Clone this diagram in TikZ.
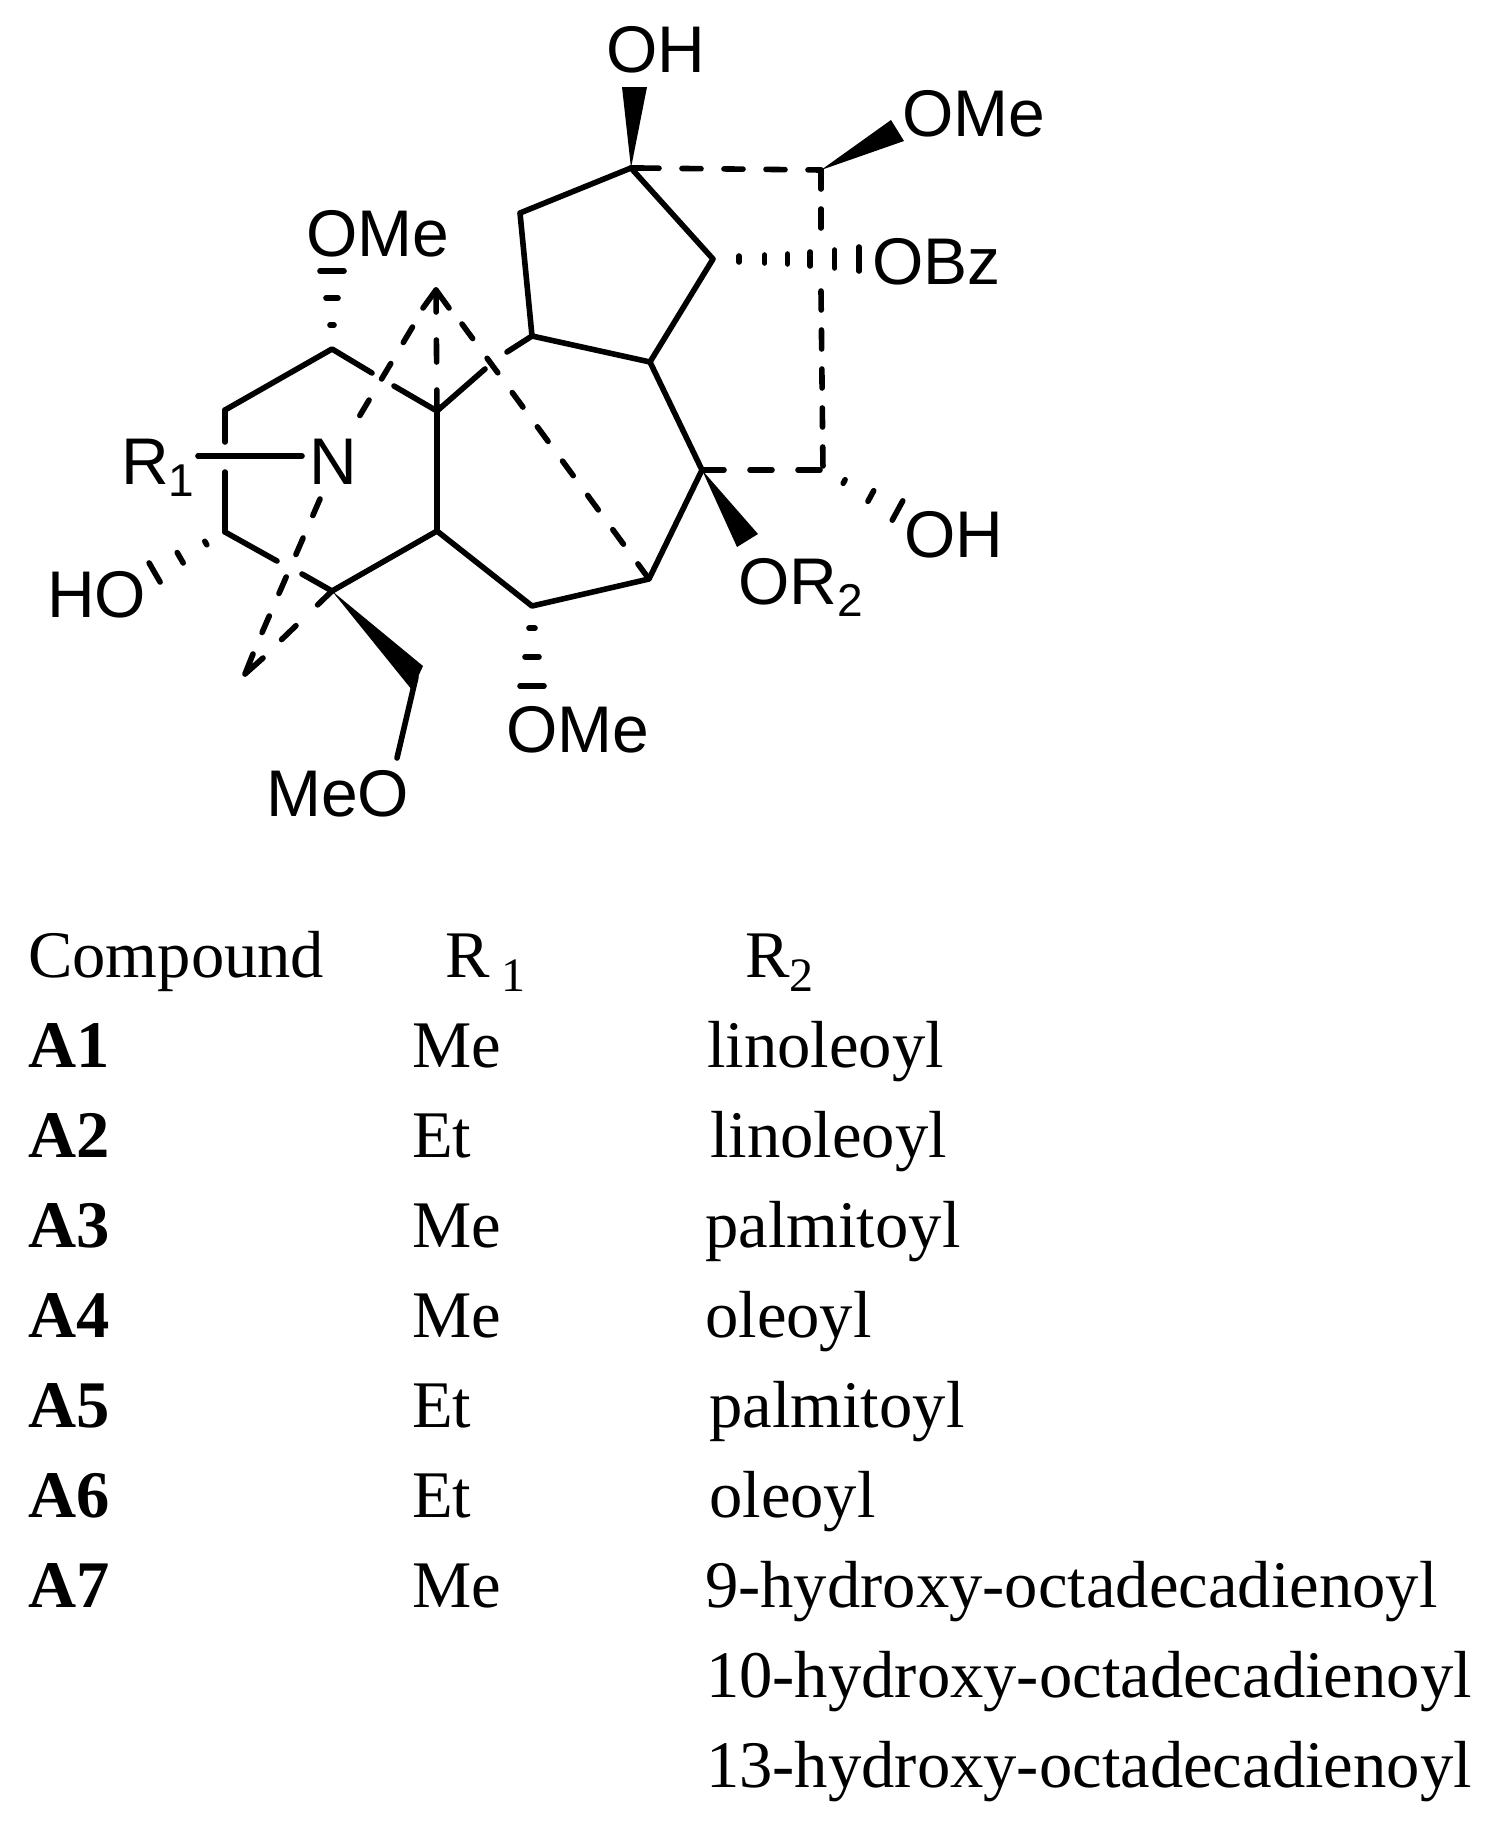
\documentclass[tikz,border=0pt]{standalone}
\usepackage{fontspec}
\setmainfont{Liberation Serif}
\newfontfamily\arialf{Liberation Sans}
\usetikzlibrary{calc}
\newcommand{\subA}[1]{\raisebox{-12pt}{\fontsize{46}{46}\selectfont #1}}
\newcommand{\subT}[1]{\raisebox{-14pt}{\fontsize{48}{48}\selectfont #1}}
\newcommand{\hashbond}[3]{% from, to, list of t/halfwidth
  \foreach \t/\w in {#3}{
    \draw[bond] ($(#1)!\t!(#2)!\w pt!90:(#2)$) -- ($(#1)!\t!(#2)!\w pt!-90:(#2)$);
  }}
\tikzset{
  bond/.style={line width=5.6pt,line join=round,line cap=round,black},
  dashA/.style={bond,dash pattern=on 19pt off 23pt},
  dashB/.style={bond,dash pattern=on 19pt off 20pt},
  dashC/.style={bond,dash pattern=on 22pt off 26pt},
  dashD/.style={bond,dash pattern=on 22pt off 28pt},
  dashE/.style={bond,dash pattern=on 18pt off 24.5pt},
  dashF/.style={bond,dash pattern=on 20pt off 30pt},
  lbl/.style={font=\arialf\fontsize{66}{66}\selectfont,inner sep=0pt,anchor=base west,text=black},
  tbl/.style={font=\fontsize{66.6}{67}\selectfont,inner sep=0pt,anchor=base west,text=black},
  tblb/.style={font=\bfseries\fontsize{66.6}{67}\selectfont,inner sep=0pt,anchor=base west,text=black},
  wedge/.style={fill=black,draw=none}
}
\begin{document}
\begin{tikzpicture}[x=1pt,y=-1pt]
\useasboundingbox[fill=white] (0,0) rectangle (1491,1826);
% atoms
\coordinate (a) at (631,168);
\coordinate (b) at (821,170);
\coordinate (c) at (713,259);
\coordinate (d) at (520,213);
\coordinate (e) at (532,336);
\coordinate (f) at (650,362);
\coordinate (g) at (702,470);
\coordinate (h) at (823,470);
\coordinate (i) at (649,579);
\coordinate (j) at (532,606);
\coordinate (k) at (437,531);
\coordinate (l) at (437,411);
\coordinate (m) at (332,349);
\coordinate (n) at (225,410);
\coordinate (o) at (225,532);
\coordinate (p) at (332,591);
\coordinate (q) at (416,677);
\coordinate (apex) at (436,290);
\coordinate (tip) at (245,674);
% labels
\node[lbl] (oh1) at (606,72) {OH};
\node[lbl] (ome1) at (902,136) {OMe};
\node[lbl] (obz) at (872,284) {OBz};
\node[lbl] (ome2) at (306,256) {OMe};
\node[lbl] (nn) at (309,484) {N};
\node[lbl] (r1) at (121,484) {R\subA{1}};
\node[lbl] (oh2) at (904,557) {OH};
\node[lbl] (or2) at (738,604) {OR\subA{2}};
\node[lbl] (ome3) at (506,752) {OMe};
\node[lbl] (meo) at (266,816) {MeO};
\node[lbl] (ho) at (47,617) {HO};
% solid bonds
\draw[bond] (d) -- (a) -- (c) -- (f) -- (e) -- (d);
\draw[bond] (f) -- (g) -- (i) -- (j) -- (k) -- (l);
\draw[bond] (k) -- (p);
\coordinate (lm1) at (394,386);
\coordinate (lm2) at (372,373);
\coordinate (le1) at (485,369);
\coordinate (le2) at (507,352);
\draw[bond] (e) -- (le2);
\draw[bond] (le1) -- (l) -- (lm1);
\draw[bond] (lm2) -- (m) -- (n);
\coordinate (no1) at (225,442);
\coordinate (no2) at (225,472);
\draw[bond] (n) -- (no1);
\draw[bond] (no2) -- (o);
\coordinate (op1) at (277,561);
\coordinate (op2) at (302,574);
\draw[bond] (o) -- (op1);
\draw[bond] (op2) -- (p);
\coordinate (r1e) at (198,456);
\coordinate (r1n) at (302,456);
\draw[bond] (r1e) -- (r1n);
\coordinate (qo) at (397,758);
\draw[bond] (q) -- (qo);
% dashed bonds
\coordinate (ab0) at (640,168);
\draw[bond] (a) -- (ab0);
\draw[dashA] (ab0) -- (b);
\coordinate (bh1) at (821,234);
\coordinate (bh2) at (821,291);
\draw[dashB] (b) -- (bh1);
\draw[dashB] (bh2) -- (h);
\draw[dashC] (g) -- (h);
\draw[dashD] (apex) -- (l);
\coordinate (ai0) at (462,324);
\draw[dashE] (ai0) -- (i);
\coordinate (nt0) at (412.5,327);
\coordinate (nt) at (356,422);
\draw[dashE] (nt0) -- (nt);
\coordinate (nb) at (320,499);
\coordinate (nb2) at (261,635);
\draw[dashE] (nb) -- (nb2);
\coordinate (pt) at (278,643);
\draw[dashF] (p) -- (pt);
% arrow barbs
\coordinate (ap1) at (423,308);
\coordinate (ap2) at (449,308);
\draw[bond] (ap1) -- (apex) -- (ap2);
\coordinate (tp1) at (253,654);
\coordinate (tp2) at (263,658);
\draw[bond] (tp1) -- (tip) -- (tp2);
% wedges
\coordinate (w1a) at (622,87);
\coordinate (w1b) at (647,87);
\fill[wedge] (a) -- (w1a) -- (w1b) -- cycle;
\coordinate (w2a) at (891,120);
\coordinate (w2b) at (904,141);
\fill[wedge] (b) -- (w2a) -- (w2b) -- cycle;
\coordinate (w3a) at (758,534);
\coordinate (w3b) at (737,547);
\fill[wedge] (g) -- (w3a) -- (w3b) -- cycle;
\coordinate (w4a) at (423,666);
\coordinate (w4b) at (412,690);
\fill[wedge] (p) -- (w4a) -- (w4b) -- cycle;
% hashed
\coordinate (hm) at (332,265);
\hashbond{m}{hm}{0.286/2,0.607/6,0.93/12}
\coordinate (hj) at (532,695);
\hashbond{j}{hj}{0.25/3,0.57/7,0.90/12}
\coordinate (ho1) at (145,578);
\hashbond{o}{ho1}{0.24/2,0.56/6,0.88/11}
\coordinate (ho2) at (915,520);
\hashbond{h}{ho2}{0.23/2,0.52/6,0.81/11}
\coordinate (hc) at (865,259);
\hashbond{c}{hc}{0.17/3,0.34/4,0.49/5,0.64/7,0.80/9,0.96/12}
% table
\node[tbl] (c0) at (28,977) {Compound};
\node[tbl] (c1) at (445,977) {R\kern12pt\subT{1}};
\node[tbl] (c2) at (745,977) {R\subT{2}};
\node[tblb] (a1) at (28,1067) {A1};
\node[tbl] (m1) at (412,1067) {Me};
\node[tbl] (r21) at (707,1067) {linoleoyl};
\node[tblb] (a2) at (28,1157) {A2};
\node[tbl] (m2) at (412,1157) {Et};
\node[tbl] (r22) at (710,1157) {linoleoyl};
\node[tblb] (a3) at (28,1247) {A3};
\node[tbl] (m3) at (412,1247) {Me};
\node[tbl] (r23) at (705,1247) {palmitoyl};
\node[tblb] (a4) at (28,1337) {A4};
\node[tbl] (m4) at (412,1337) {Me};
\node[tbl] (r24) at (705,1337) {oleoyl};
\node[tblb] (a5) at (28,1427) {A5};
\node[tbl] (m5) at (412,1427) {Et};
\node[tbl] (r25) at (709,1427) {palmitoyl};
\node[tblb] (a6) at (28,1517) {A6};
\node[tbl] (m6) at (412,1517) {Et};
\node[tbl] (r26) at (709,1517) {oleoyl};
\node[tblb] (a7) at (28,1607) {A7};
\node[tbl] (m7) at (412,1607) {Me};
\node[tbl] (r27) at (705,1607) {9-hydroxy-octadecadienoyl};
\node[tbl] (r28) at (706,1697) {10-hydroxy-octadecadienoyl};
\node[tbl] (r29) at (706,1787) {13-hydroxy-octadecadienoyl};
\end{tikzpicture}
\end{document}
